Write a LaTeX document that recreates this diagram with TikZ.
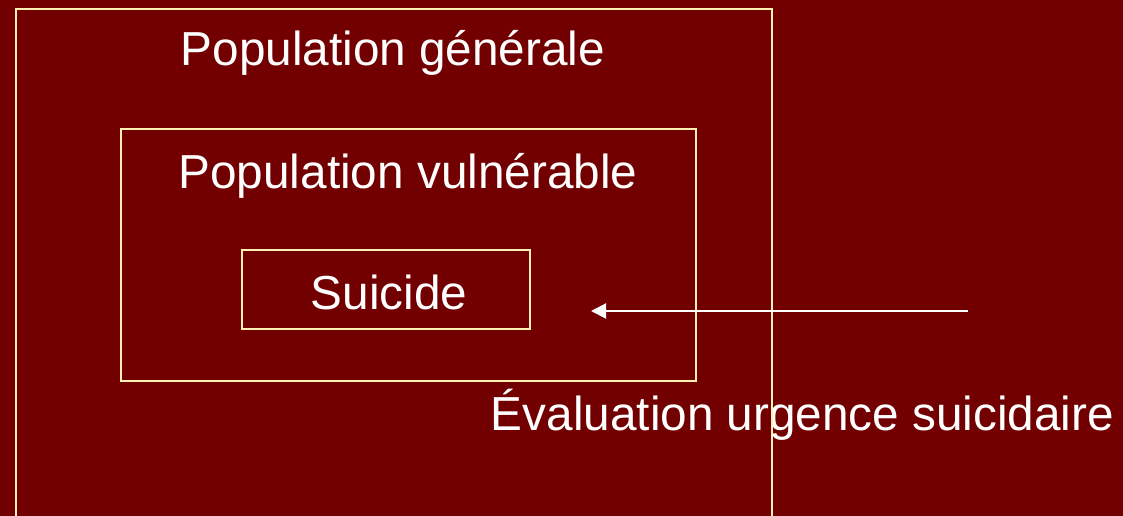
\documentclass[tikz,border=0pt]{standalone}
\usepackage{fontspec}
\setmainfont{Liberation Sans}
\usetikzlibrary{arrows.meta}
\definecolor{bgred}{RGB}{115,0,0}
\definecolor{paleline}{RGB}{255,240,180}
\tikzset{
  frame/.style={draw=paleline, line width=2pt, rectangle, inner sep=0pt},
  label/.style={text=white, inner sep=0pt, anchor=base, font=\fontsize{47.7}{57}\selectfont},
  pointer/.style={draw=white, line width=2pt, -{Triangle[length=15pt,width=15pt]}}
}
\begin{document}
\begin{tikzpicture}[x=1pt,y=-1pt]
\useasboundingbox (0,0) rectangle (1123,516);
\clip (0,0) rectangle (1123,516);
\fill[bgred] (0,0) rectangle (1123,516);
\node[label] (eval) at (802.5,430) {Évaluation urgence suicidaire};
\node[frame, minimum width=756pt, minimum height=531pt] (outer) at (394,274.5) {};
\node[frame, minimum width=575pt, minimum height=252pt] (middle) at (408.5,255) {};
\node[frame, minimum width=288pt, minimum height=79pt] (inner) at (386,289.5) {};
\node[label] (gen) at (393,66) {Population générale};
\node[label] (vul) at (408,188) {Population vulnérable};
\node[label] (sui) at (389,309) {Suicide};
\coordinate (arrS) at (968,311);
\coordinate (arrE) at (591,311);
\draw[pointer] (arrS) -- (arrE);
\end{tikzpicture}
\end{document}
